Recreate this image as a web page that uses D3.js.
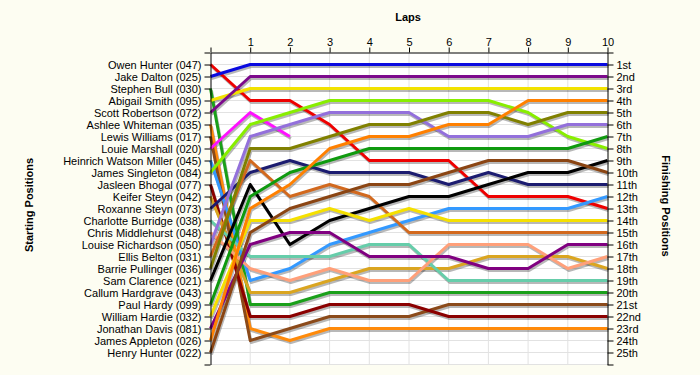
<!DOCTYPE html>
<html>
<head>
<meta charset="utf-8">
<script src="https://cdn.jsdelivr.net/npm/d3@7"></script>
<style>
body { margin: 0; background: #fdfdf2; }
text { font-family: "Liberation Sans", Arial, sans-serif; }
</style>
</head>
<body>
<script>
// starting grid order, top to bottom
var drivers = [
	"Owen Hunter (047)", "Jake Dalton (025)", "Stephen Bull (030)", "Abigail Smith (095)",
	"Scott Robertson (072)", "Ashlee Whiteman (035)", "Lewis Williams (017)", "Louie Marshall (020)",
	"Heinrich Watson Miller (045)", "James Singleton (084)", "Jasleen Bhogal (077)", "Keifer Steyn (042)",
	"Roxanne Steyn (073)", "Charlotte Burridge (038)", "Chris Middlehurst (048)", "Louise Richardson (050)",
	"Ellis Belton (031)", "Barrie Pullinger (036)", "Sam Clarence (021)", "Callum Hardgrave (043)",
	"Paul Hardy (099)", "William Hardie (032)", "Jonathan Davis (081)", "James Appleton (026)",
	"Henry Hunter (022)"
];

var finishLabels = [
	"1st", "2nd", "3rd", "4th", "5th", "6th", "7th", "8th", "9th", "10th",
	"11th", "12th", "13th", "14th", "15th", "16th", "17th", "18th", "19th", "20th",
	"21st", "22nd", "23rd", "24th", "25th"
];

var lapTicks = [0, 1, 2, 3, 4, 5, 6, 7, 8, 9, 10];

// position at lap 0..10 for each driver (shorter list = retired)
var positions = [
	[1, 4, 4, 6, 9, 9, 9, 12, 12, 12, 13],
	[2, 1, 1, 1, 1, 1, 1, 1, 1, 1, 1],
	[3, 21, 21, 20, 20, 20, 20, 20, 20, 20, 20],
	[4, 3, 3, 3, 3, 3, 3, 3, 3, 3, 3],
	[5, 2, 2, 2, 2, 2, 2, 2, 2, 2, 2],
	[6, 23, 24, 23, 23, 23, 23, 23, 23, 23, 23],
	[7, 24, 23, 22, 22, 22, 21, 21, 21, 21, 21],
	[8, 5, 7],
	[9, 19, 18, 16, 15, 14, 13, 13, 13, 13, 12],
	[10, 6, 5, 4, 4, 4, 4, 4, 5, 7, 8],
	[11, 22, 22, 21, 21, 21, 22, 22, 22, 22, 22],
	[12, 20, 20, 19, 18, 18, 18, 17, 17, 17, 18],
	[13, 10, 9, 10, 10, 10, 11, 10, 11, 11, 11],
	[14, 17, 17, 17, 16, 16, 19, 19, 19, 19, 19],
	[15, 18, 19, 18, 19, 19, 16, 16, 16, 18, 17],
	[16, 7, 6, 5, 5, 5, 7, 7, 7, 6, 6],
	[17, 9, 12, 11, 12, 15, 15, 15, 15, 15, 15],
	[18, 8, 8, 7, 6, 6, 5, 5, 6, 5, 5],
	[19, 11, 16, 14, 13, 12, 12, 11, 10, 10, 9],
	[20],
	[21, 12, 10, 9, 8, 8, 8, 8, 8, 8, 7],
	[22, 14, 14, 13, 14, 13, 14, 14, 14, 14, 14],
	[23, 16, 15, 15, 17, 17, 17, 18, 18, 16, 16],
	[24, 13, 11, 8, 7, 7, 6, 6, 4, 4, 4],
	[25, 15, 13, 12, 11, 11, 10, 9, 9, 9, 10]
];

var lineColors = [
	"#ee0000", "#0a0ae0", "#1aa01a", "#f2e200", "#7c0a8c", "#ff8a0a", "#8b4a1a", "#ff10ff",
	"#3399ff", "#88ee00", "#8b0000", "#daa520", "#1c1c70", "#66cdaa", "#ffa07a", "#9370db",
	"#d2691e", "#808000", "#000000", "#30a030", "#0f9a0f", "#f5e000", "#800080", "#ff8000",
	"#8b4513"
];

var W = 700, H = 375;

var svg = d3.select(document.body)
	.append("svg")
	.attr("width", W)
	.attr("height", H);

svg.append("rect")
	.attr("width", W)
	.attr("height", H)
	.attr("fill", "#fdfdf2");

var x = d3.scaleLinear().domain([0, 10]).range([210.5, 607.5]);
var y = d3.scaleLinear().domain([0, 26]).range([52.5, 364.5]);

svg.append("rect")
	.attr("x", x(0))
	.attr("y", y(0))
	.attr("width", x(10) - x(0))
	.attr("height", y(26) - y(0))
	.attr("fill", "#ffffff");

// grid
var grid = svg.append("g").attr("stroke", "#e2e2e2").attr("stroke-width", 1);
grid.selectAll("line.h")
	.data(d3.range(1, 27))
	.enter().append("line")
	.attr("x1", x(0)).attr("x2", x(10))
	.attr("y1", function (d) { return y(d); })
	.attr("y2", function (d) { return y(d); });
grid.selectAll("line.v")
	.data(lapTicks.slice(1, 10))
	.enter().append("line")
	.attr("y1", y(0)).attr("y2", y(26))
	.attr("x1", function (d) { return x(d); })
	.attr("x2", function (d) { return x(d); });

var line = d3.line()
	.x(function (d, i) { return x(lapTicks[i]); })
	.y(function (d) { return y(d); });

var series = positions.map(function (p, i) { return { pos: p, color: lineColors[i] }; })
	.filter(function (s) { return s.pos.length > 1; });

// drop shadow under each line
svg.append("g")
	.attr("transform", "translate(1,2)")
	.selectAll("path")
	.data(series)
	.enter().append("path")
	.attr("d", function (s) { return line(s.pos); })
	.attr("fill", "none")
	.attr("stroke", "#000")
	.attr("stroke-opacity", 0.28)
	.attr("stroke-width", 3)
	.attr("stroke-linejoin", "round");

svg.append("g")
	.selectAll("path")
	.data(series)
	.enter().append("path")
	.attr("d", function (s) { return line(s.pos); })
	.attr("fill", "none")
	.attr("stroke", function (s) { return s.color; })
	.attr("stroke-width", 3)
	.attr("stroke-linejoin", "round");

// axes
function styleAxis(g) {
	g.attr("font-size", 11)
	 .attr("font-family", "'Liberation Sans', Arial, sans-serif");
	g.selectAll("text").attr("fill", "#000");
	g.selectAll("line").attr("stroke", "#000");
	g.select(".domain").attr("stroke", "#000");
}

svg.append("g")
	.attr("transform", "translate(" + x(0) + ",0)")
	.call(d3.axisLeft(y)
		.tickValues(d3.range(0, 27))
		.tickFormat(function (d) { return drivers[d - 1] || ""; })
		.tickSize(6).tickPadding(3).tickSizeOuter(0))
	.call(styleAxis);

svg.append("g")
	.attr("transform", "translate(" + x(10) + ",0)")
	.call(d3.axisRight(y)
		.tickValues(d3.range(0, 27))
		.tickFormat(function (d) { return finishLabels[d - 1] || ""; })
		.tickSize(6).tickPadding(3).tickSizeOuter(0))
	.call(styleAxis);

svg.append("g")
	.attr("transform", "translate(0," + y(0) + ")")
	.call(d3.axisTop(x)
		.tickValues(lapTicks)
		.tickFormat(function (d) { return d === 0 ? "" : d; })
		.tickSize(5).tickPadding(2).tickSizeOuter(0))
	.call(styleAxis);

// titles
svg.append("text")
	.attr("x", 408).attr("y", 21)
	.attr("text-anchor", "middle")
	.attr("font-size", 11).attr("font-weight", "bold")
	.text("Laps");

svg.append("text")
	.attr("transform", "translate(33,205) rotate(-90)")
	.attr("text-anchor", "middle")
	.attr("font-size", 11).attr("font-weight", "bold")
	.text("Starting Positions");

svg.append("text")
	.attr("transform", "translate(662,206) rotate(90)")
	.attr("text-anchor", "middle")
	.attr("font-size", 11).attr("font-weight", "bold")
	.text("Finishing Positions");
</script>
</body>
</html>
